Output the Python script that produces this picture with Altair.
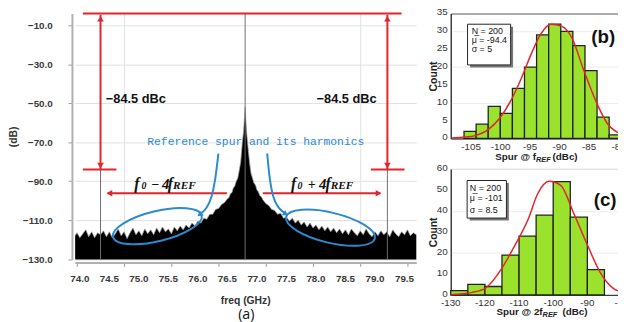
import altair as alt
import pandas as pd

RED = "#e3242b"
BLUE = "#2b8ad0"
GREEN = "#9be22d"
SANS = "Liberation Sans"
SERIF = "Liberation Serif"

# ---------------- panel (a): spectrum ----------------
freq = [73.92, 73.95, 74.00, 74.05, 74.10, 74.15, 74.20, 74.25, 74.30, 74.35,
        74.40, 74.45, 74.50, 74.55, 74.60, 74.65, 74.70, 74.75, 74.80, 74.85,
        74.90, 74.95, 75.00, 75.05, 75.10, 75.15, 75.20, 75.25, 75.30, 75.35,
        75.40, 75.45, 75.50, 75.55, 75.60, 75.65, 75.70, 75.75, 75.80, 75.85,
        75.90, 75.95, 76.00, 76.05, 76.10, 76.15, 76.20, 76.25, 76.30, 76.35,
        76.40, 76.45, 76.50, 76.525, 76.55, 76.575, 76.60, 76.625, 76.65, 76.675,
        76.70, 76.725, 76.75, 76.775, 76.80, 76.825, 76.85, 76.875, 76.90, 76.925,
        76.95, 76.975, 77.00, 77.025, 77.05, 77.075, 77.10, 77.15, 77.20, 77.25,
        77.30, 77.35, 77.40, 77.45, 77.50, 77.55, 77.60, 77.65, 77.70, 77.75,
        77.80, 77.85, 77.90, 77.95, 78.00, 78.05, 78.10, 78.15, 78.20, 78.25,
        78.30, 78.35, 78.40, 78.45, 78.50, 78.55, 78.60, 78.65, 78.70, 78.75,
        78.80, 78.85, 78.90, 78.95, 79.00, 79.05, 79.10, 79.15, 79.20, 79.25,
        79.30, 79.35, 79.40, 79.45, 79.50, 79.55, 79.60, 79.65, 79.70]
level = [-118.0, -116.5, -119.0, -117.0, -115.0, -118.5, -116.0, -119.0, -116.5, -117.5,
         -115.5, -118.5, -116.0, -119.0, -117.0, -114.5, -118.0, -116.0, -119.5, -116.5,
         -114.0, -117.5, -115.5, -118.0, -114.5, -117.0, -115.0, -117.5, -114.0, -116.5,
         -113.5, -116.0, -114.5, -117.0, -113.5, -115.5, -113.0, -115.0, -112.5, -114.0,
         -111.5, -113.0, -110.5, -111.5, -109.0, -109.5, -107.0, -107.0, -104.5, -104.0,
         -102.0, -101.0, -99.0, -98.5, -96.5, -96.0, -93.5, -92.5, -90.0, -88.5,
         -84.5, -80.0, -71.0, -64.0, -52.0, -65.0, -73.0, -80.5, -86.0, -88.5,
         -91.0, -92.0, -94.5, -95.5, -97.5, -98.0, -99.5, -101.5, -102.5, -104.5,
         -105.0, -107.0, -106.5, -109.0, -108.5, -110.5, -109.0, -111.5, -110.0, -112.5,
         -111.0, -113.5, -111.5, -114.0, -112.5, -115.0, -113.0, -115.5, -113.5, -116.0,
         -114.0, -116.5, -114.5, -117.0, -115.0, -117.5, -114.5, -116.5, -118.0, -115.5,
         -117.5, -114.5, -117.0, -118.5, -116.0, -118.0, -115.5, -117.5, -116.0, -118.5,
         -115.0, -117.0, -118.5, -116.0, -117.5, -115.0, -118.0, -116.5, -117.5]
spur_freq = [74.35, 76.80, 79.21]
spur_top = [-84.0, -3.9, -84.0]
a_xlabels = [74.0, 74.5, 75.0, 75.5, 76.0, 76.5, 77.0, 77.5, 78.0, 78.5, 79.0, 79.5]

# ---------------- panel (b) ----------------
b_edges = [-106.2, -104.15, -102.1, -100.05, -98.0, -95.95, -93.9, -91.85,
           -89.8, -87.75, -85.7, -83.65, -81.6, -79.55]
b_counts = [2, 4, 9, 7, 14, 20, 29, 32, 30, 26, 19, 6, 1]
b_fit_x = [-108.3, -106.0, -104.3, -102.0, -100.1, -98.2, -96.5, -94.8,
           -93.2, -91.5, -89.6, -87.8, -86.0, -83.7, -82.0, -79.6]
b_fit_y = [0.1, 0.4, 0.8, 2.6, 5.8, 10.8, 16.8, 23.7, 29.2, 32.0, 31.4, 27.8,
           19.5, 9.9, 4.4, 1.2]
b_stats = ["N = 200", "\u03bc\u0305 = -94.4", "\u03c3 = 5"]
b_xlabels = [-105, -100, -95, -90, -85, -80]
b_ylabels = [0, 5, 10, 15, 20, 25, 30, 35]

# ---------------- panel (c) ----------------
c_edges = [-130, -125, -120, -115, -110, -105, -100, -95, -90, -85]
c_counts = [2, 5, 4, 19, 28, 38, 54, 37, 12]
c_fit_x = [-130.0, -128.6, -123.7, -119.9, -115.1, -111.3, -107.4, -104.5,
           -101.2, -97.8, -94.0, -90.1, -86.3, -82.4, -79.4]
c_fit_y = [0.1, 0.3, 1.2, 3.1, 12.5, 23.4, 35.8, 48.3, 54.1, 52.2, 38.9, 24.2,
           10.9, 3.1, 1.2]
c_stats = ["N = 200", "\u03bc\u0305 = -101", "\u03c3 = 8.5"]
c_xlabels = [-130, -120, -110, -100, -90, -80]
c_ylabels = [0, 10, 20, 30, 40, 50, 60]

# ================= panel (a) =================
W_A, H_A = 347, 250
xs = alt.Scale(domain=[73.916, 79.70], nice=False, zero=False)
ys = alt.Scale(domain=[-130.2, -3.9], nice=False, zero=False)

x_ticks = [round(73.95 + 0.05 * i, 2) for i in range(116)]
y_ticks = [-130 + 2.5 * i for i in range(51)]
X_GRID = "abs(datum.value*4-round(datum.value*4))<0.001"
Y_LAB = "datum.value % 20 == -10"
Y_GRID = "datum.value % 5 == 0"

ax_x = alt.Axis(
    values=x_ticks, title=None, labels=False,
    tickColor="#9a9a9a", tickWidth=1, tickSize=4,
    grid=True, gridColor="#e0e0e0", gridWidth=1,
    gridOpacity={"condition": {"test": X_GRID, "value": 1}, "value": 0},
    domainColor="#b0b0b0", domainWidth=2, offset=3)
ax_y = alt.Axis(
    values=y_ticks, title="(dB)",
    labelExpr=f"{Y_LAB} ? format(datum.value, '.1f') : ''",
    labelOverlap=False, labelFont=SANS, labelFontSize=10,
    labelFontWeight="bold", labelColor="#3a3a3a", labelPadding=16,
    tickColor="#9a9a9a", tickWidth=1, tickSize=4,
    grid=True, gridColor="#e0e0e0", gridWidth=1,
    gridOpacity={"condition": {"test": Y_GRID, "value": 1}, "value": 0},
    domainColor="#b0b0b0", domainWidth=2, offset=3,
    titleFont=SANS, titleFontSize=10.5, titleFontWeight="bold",
    titleColor="#333", titlePadding=3.5)


def XA(field):
    return alt.X(field, scale=xs)


def YA(field):
    return alt.Y(field, scale=ys)


spec_df = pd.DataFrame({"f": freq, "db": level})
spur_df = pd.DataFrame({"f": spur_freq, "top": spur_top})

area = alt.Chart(spec_df).mark_area(color="black").encode(
    x=alt.X("f:Q", scale=xs, axis=ax_x),
    y=alt.Y("db:Q", scale=ys, axis=ax_y), y2=alt.datum(-130.2))
fuzz = alt.Chart(spec_df).mark_line(color="#9a9a9a", strokeWidth=0.8, opacity=0.9).encode(
    x=XA("f:Q"), y=YA("db:Q"))
spurs = alt.Chart(spur_df).mark_rule(color="#6e6e6e", strokeWidth=1).encode(
    x=XA("f:Q"), y=YA("top:Q"), y2=alt.datum(-130.2))

seg_df = pd.DataFrame({
    "x1": [74.05, 74.35, 79.21, 74.05, 78.93, 74.47, 77.10],
    "x2": [79.45, 74.35, 79.21, 74.62, 79.50, 76.49, 79.09],
    "y1": [-3.9, -4.5, -4.5, -84.0, -84.0, -96.2, -96.2],
    "y2": [-3.9, -84.0, -84.0, -84.0, -84.0, -96.2, -96.2]})
segs = alt.Chart(seg_df).mark_rule(color=RED, strokeWidth=2).encode(
    x=XA("x1:Q"), x2="x2:Q", y=YA("y1:Q"), y2="y2:Q")

head_df = pd.DataFrame({
    "f": [74.35, 74.35, 79.21, 79.21, 74.50, 79.06],
    "db": [-6.6, -82.0, -6.6, -82.0, -96.2, -96.2],
    "shape": ["triangle-up", "triangle-down", "triangle-up", "triangle-down",
              "triangle-left", "triangle-right"]})
heads = alt.Chart(head_df).mark_point(filled=True, color=RED, size=45, opacity=1).encode(
    x=XA("f:Q"), y=YA("db:Q"), shape=alt.Shape("shape:N", scale=None))

ELLIPSE = ("M -1 0 C -1 -0.182 -0.5523 -0.33 0 -0.33 C 0.5523 -0.33 1 -0.182 1 0 "
           "C 1 0.182 0.5523 0.33 0 0.33 C -0.5523 0.33 -1 0.182 -1 0 Z")
ell_df = pd.DataFrame({"f": [75.313, 78.247], "db": [-113.1, -113.9], "ang": [346.4, 13.5]})
ells = alt.Chart(ell_df).mark_point(shape=ELLIPSE, filled=False, color=BLUE,
                                    strokeWidth=2, size=8600, opacity=1).encode(
    x=XA("f:Q"), y=YA("db:Q"), angle=alt.Angle("ang:Q", scale=None))

barr_df = pd.DataFrame({
    "f": [76.347, 76.292, 76.230, 76.146, 76.041, 77.174, 77.219, 77.278, 77.362, 77.476],
    "db": [-75.8, -88.9, -98.0, -103.6, -106.9, -75.8, -88.9, -98.0, -103.3, -106.6],
    "g": ["L"] * 5 + ["R"] * 5, "o": [0, 1, 2, 3, 4] * 2})
barr = alt.Chart(barr_df).mark_line(color=BLUE, strokeWidth=2, interpolate="cardinal").encode(
    x=XA("f:Q"), y=YA("db:Q"), detail="g:N", order="o:Q")
bhead_df = pd.DataFrame({"f": [76.041, 77.476], "db": [-106.9, -106.6], "ang": [233, 122]})
bheads = alt.Chart(bhead_df).mark_point(shape="triangle", filled=True, color=BLUE,
                                        size=40, opacity=1).encode(
    x=XA("f:Q"), y=YA("db:Q"), angle=alt.Angle("ang:Q", scale=None))

dbc_df = pd.DataFrame({"f": [74.44, 78.01], "db": [-47.9, -47.9],
                       "t": ["\u221284.5 dBc", "\u221284.5 dBc"]})
dbc = alt.Chart(dbc_df).mark_text(align="left", baseline="middle", font=SANS,
                                  fontSize=13, fontWeight="bold", color="#111").encode(
    x=XA("f:Q"), y=YA("db:Q"), text="t:N")

ref_df = pd.DataFrame({"f": [76.98], "db": [-69.8], "t": ["Reference spur and its harmonics"]})
reftxt = alt.Chart(ref_df).mark_text(align="center", baseline="middle",
                                     font="Liberation Mono", fontSize=11.5, color=BLUE).encode(
    x=XA("f:Q"), y=YA("db:Q"), text="t:N")

fl_df = pd.DataFrame({
    "t": ["f", "0", "\u2212", "4", "f", "REF", "f", "0", "+", "4", "f", "REF"],
    "f": [74.922, 75.045, 75.205, 75.39, 75.49, 75.58,
          77.576, 77.689, 77.860, 78.05, 78.16, 78.25],
    "db": [-94.0] * 12,
    "s": [16, 10, 14, 15, 16, 11.5, 16, 10, 14, 15, 16, 11.5]})
flab = alt.Chart(fl_df).mark_text(align="left", baseline="alphabetic", font=SERIF,
                                  fontStyle="italic", fontWeight="bold", color="#111").encode(
    x=XA("f:Q"), y=YA("db:Q"), text="t:N", size=alt.Size("s:Q", scale=None))

axl_df = pd.DataFrame({"f": a_xlabels, "db": [-140.0] * len(a_xlabels),
                       "t": [f"{v:.1f}" for v in a_xlabels]})
axl = alt.Chart(axl_df).mark_text(align="center", baseline="middle", font=SANS,
                                  fontSize=10, fontWeight="bold", color="#3a3a3a").encode(
    x=XA("f:Q"), y=YA("db:Q"), text="t:N")

atit_df = pd.DataFrame({"f": [76.81, 76.82], "db": [-151.3, -158.6],
                        "t": ["freq (GHz)", "(a)"]})
atit1 = alt.Chart(atit_df.iloc[[0]]).mark_text(align="center", baseline="middle", font=SANS,
                                               fontSize=10.5, fontWeight="bold",
                                               color="#333").encode(
    x=XA("f:Q"), y=YA("db:Q"), text="t:N")
atit2 = alt.Chart(atit_df.iloc[[1]]).mark_text(align="center", baseline="middle",
                                               font="Open Sans", fontSize=14.5,
                                               color="#111").encode(
    x=XA("f:Q"), y=YA("db:Q"), text="t:N")

panel_a = alt.layer(area, fuzz, spurs, segs, heads, ells, barr, bheads, dbc, reftxt, flab,
                    axl, atit1, atit2).properties(
    width=W_A, height=H_A, view=alt.ViewBackground(stroke="transparent"))


# ================= histogram panels =================
def hist_panel(edges, counts, fit_x, fit_y, stats, xdom, ydom, xlabels, ylabels, w, h,
               box, stat_x, stat_y, tag, tag_xy, title_main, title_x, title_x2,
               label_y, title_y):
    sx = alt.Scale(domain=xdom, nice=False, zero=False)
    sy = alt.Scale(domain=ydom, nice=False, zero=False)
    axx = alt.Axis(values=xlabels, title=None, labels=False, ticks=False,
                   domainColor="#222", grid=False)
    axy = alt.Axis(values=ylabels, title="Count", titleFont=SANS, titleFontSize=10.5,
                   titleFontWeight="bold", titleColor="#222", titlePadding=12.5,
                   labels=False, ticks=False, domainColor="#222",
                   grid=True, gridColor="#ececec")

    def X(f):
        return alt.X(f, scale=sx)

    def Y(f):
        return alt.Y(f, scale=sy)

    hdf = pd.DataFrame({"a": edges[:-1], "b": edges[1:], "n": counts})
    bars = alt.Chart(hdf).mark_bar(color=GREEN, stroke="#222", strokeWidth=1.3).encode(
        x=alt.X("a:Q", scale=sx, axis=axx), x2="b:Q",
        y=alt.Y("n:Q", scale=sy, axis=axy), y2=alt.datum(0))
    fdf = pd.DataFrame({"x": fit_x, "y": fit_y})
    fit = alt.Chart(fdf).mark_line(color=RED, strokeWidth=1.5, interpolate="monotone").encode(
        x=X("x:Q"), y=Y("y:Q"))
    bdf = pd.DataFrame({"x1": [box[0]], "x2": [box[1]], "y1": [box[2]], "y2": [box[3]]})
    shadow = alt.Chart(bdf).mark_rect(color="#777", xOffset=2.5, x2Offset=2.5,
                                      yOffset=2.5, y2Offset=2.5).encode(
        x=X("x1:Q"), x2="x2:Q", y=Y("y1:Q"), y2="y2:Q")
    rect = alt.Chart(bdf).mark_rect(fill="white", stroke="#222", strokeWidth=1).encode(
        x=X("x1:Q"), x2="x2:Q", y=Y("y1:Q"), y2="y2:Q")
    sdf = pd.DataFrame({"x": [stat_x] * 3, "y": stat_y, "t": stats})
    stxt = alt.Chart(sdf).mark_text(align="left", baseline="middle", font=SANS,
                                    fontSize=9, color="#111").encode(
        x=X("x:Q"), y=Y("y:Q"), text="t:N")
    tdf = pd.DataFrame({"x": [tag_xy[0]], "y": [tag_xy[1]], "t": [tag]})
    ttxt = alt.Chart(tdf).mark_text(align="center", baseline="middle", font=SANS,
                                    fontSize=19, fontWeight="bold", color="#111").encode(
        x=X("x:Q"), y=Y("y:Q"), text="t:N")
    xl_df = pd.DataFrame({"x": xlabels, "y": [label_y] * len(xlabels),
                          "t": [str(v) for v in xlabels]})
    xl = alt.Chart(xl_df).mark_text(align="center", baseline="middle", font=SANS,
                                    fontSize=10, color="#333").encode(
        x=X("x:Q"), y=Y("y:Q"), text="t:N")
    yl_df = pd.DataFrame({"x": [xdom[0]] * len(ylabels), "y": ylabels,
                          "t": [str(v) for v in ylabels]})
    yl = alt.Chart(yl_df).mark_text(align="right", baseline="middle", font=SANS,
                                    fontSize=10, color="#333", dx=-3, dy=-1).encode(
        x=X("x:Q"), y=Y("y:Q"), text="t:N")
    t1 = pd.DataFrame({"x": [title_x], "y": [title_y], "t": [title_main]})
    t2 = pd.DataFrame({"x": [title_x], "y": [title_y], "t": ["REF"]})
    t3 = pd.DataFrame({"x": [title_x2], "y": [title_y], "t": ["(dBc)"]})
    tt1 = alt.Chart(t1).mark_text(align="right", baseline="middle", font=SANS, fontSize=10,
                                  fontWeight="bold", color="#222").encode(
        x=X("x:Q"), y=Y("y:Q"), text="t:N")
    tt2 = alt.Chart(t2).mark_text(align="left", baseline="middle", font=SANS, fontSize=7.5,
                                  fontWeight="bold", fontStyle="italic", dy=3,
                                  color="#222").encode(
        x=X("x:Q"), y=Y("y:Q"), text="t:N")
    tt3 = alt.Chart(t3).mark_text(align="left", baseline="middle", font=SANS, fontSize=10,
                                  fontWeight="bold", color="#222").encode(
        x=X("x:Q"), y=Y("y:Q"), text="t:N")
    return alt.layer(bars, fit, shadow, rect, stxt, ttxt, xl, yl, tt1, tt2, tt3).properties(
        width=w, height=h, view=alt.ViewBackground(stroke="#555", strokeWidth=1))


panel_b = hist_panel(b_edges, b_counts, b_fit_x, b_fit_y, b_stats,
                     [-108.45, -79.1], [0, 35], b_xlabels, b_ylabels, 176, 127,
                     [-105.6, -98.3, 32.0, 20.6], -104.9, [30.2, 27.6, 25.1],
                     "(b)", (-82.6, 28.3), "Spur @ f", -94.0, -91.2, -2.3, -5.1)
panel_c = hist_panel(c_edges, c_counts, c_fit_x, c_fit_y, c_stats,
                     [-130, -79.3], [0, 60], c_xlabels, c_ylabels, 176, 128,
                     [-125.2, -113.7, 54.5, 36.6], -124.4, [51.1, 46.0, 40.5],
                     "(c)", (-84.8, 45.2), "Spur @ 2f", -103.1, -97.3, -3.8, -8.4)

right = alt.vconcat(panel_b, panel_c, spacing=31, bounds="flush")
chart = alt.hconcat(panel_a, right, spacing=35, bounds="flush").properties(
    padding={"left": 0, "top": -4, "right": -12, "bottom": 0},
    background="white",
).configure_view(stroke="transparent")

chart.save("out.html", embed_options={"renderer": "svg", "actions": False})
